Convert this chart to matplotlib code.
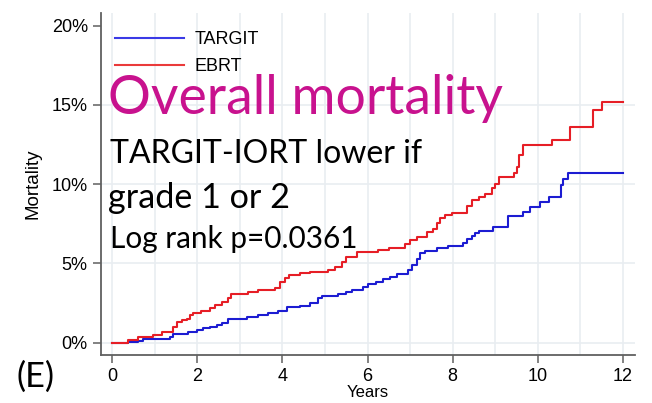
import matplotlib
matplotlib.use("Agg")
import matplotlib.pyplot as plt
from matplotlib.ticker import FixedLocator

# ---------------- data (percent mortality, step changes) ----------------
ebrt_t = [0, 0.38, 0.61, 0.96, 1.17, 1.43, 1.53, 1.65, 1.76, 1.83, 1.9, 2.1, 2.3, 2.42,
          2.58, 2.72, 2.8, 3.2, 3.43, 3.83, 3.94, 4.05, 4.15, 4.41, 4.65, 5.07, 5.23,
          5.4, 5.5, 5.75, 6.24, 6.5, 6.88, 7.0, 7.16, 7.4, 7.54, 7.62, 7.7, 7.82, 7.98,
          8.33, 8.45, 8.62, 8.75, 8.92, 9.0, 9.09, 9.44, 9.5, 9.56, 9.65, 10.33, 10.75,
          11.3, 11.5, 12.0]
ebrt_y = [0, 0.17, 0.38, 0.5, 0.67, 1.0, 1.3, 1.4, 1.5, 1.75, 1.87, 2.0, 2.2, 2.4,
          2.57, 2.8, 3.07, 3.2, 3.3, 3.47, 3.85, 4.1, 4.27, 4.37, 4.48, 4.6, 4.79,
          5.1, 5.4, 5.72, 5.82, 5.95, 6.2, 6.48, 6.69, 6.95, 7.2, 7.53, 7.84, 8.05, 8.16,
          8.6, 9.0, 9.17, 9.38, 9.74, 9.99, 10.43, 10.7, 11.1, 11.83, 12.45, 12.78, 13.62,
          14.65, 15.2, 15.2]

targit_t = [0, 0.38, 0.61, 0.73, 1.36, 1.43, 1.78, 2.0, 2.14, 2.3, 2.46, 2.58, 2.72,
            3.17, 3.43, 3.66, 3.9, 4.1, 4.41, 4.65, 4.84, 4.93, 5.3, 5.5, 5.63, 5.9,
            6.0, 6.2, 6.37, 6.53, 6.68, 6.95, 7.04, 7.16, 7.23, 7.35, 7.63, 7.9, 8.24,
            8.33, 8.45, 8.52, 8.62, 8.94, 9.3, 9.65, 9.81, 10.05, 10.26, 10.54, 10.6,
            10.7, 12.0]
targit_y = [0, 0.07, 0.13, 0.2, 0.38, 0.55, 0.69, 0.8, 0.9, 1.0, 1.11, 1.26, 1.49,
            1.6, 1.73, 1.85, 2.02, 2.23, 2.31, 2.48, 2.8, 2.94, 3.07, 3.22, 3.3, 3.53,
            3.7, 3.85, 4.0, 4.16, 4.31, 4.58, 4.9, 5.26, 5.64, 5.8, 5.95, 6.1, 6.3,
            6.52, 6.73, 6.9, 7.06, 7.28, 7.99, 8.26, 8.54, 8.85, 9.2, 9.94, 10.3,
            10.72, 10.72]

x_ticks = [0, 2, 4, 6, 8, 10, 12]
y_ticks = [0, 5, 10, 15, 20]
y_ticklabels = ["0%", "5%", "10%", "15%", "20%"]
series_labels = ["TARGIT", "EBRT"]

# ---------------- figure ----------------
W, H = 652, 403
fig = plt.figure(figsize=(W / 100, H / 100), dpi=100)
fig.patch.set_facecolor("white")
ax = fig.add_axes([101 / W, 1 - 355 / H, (635 - 101) / W, (355 - 13) / H])

base_font = "Liberation Sans"
grid_col = "#e9edf1"

ax.set_xlim(-0.26, 12.28)
ax.set_ylim(-0.78, 20.8)

ax.xaxis.set_major_locator(FixedLocator(x_ticks))
ax.xaxis.set_minor_locator(FixedLocator(list(range(0, 13))))
ax.yaxis.set_major_locator(FixedLocator(y_ticks))
ax.set_yticklabels(y_ticklabels)
ax.grid(True, which="both", axis="x", color=grid_col, lw=1.2)
ax.grid(True, which="major", axis="y", color=grid_col, lw=1.2)
ax.yaxis.get_gridlines()[-1].set_visible(False)
ax.set_axisbelow(True)

for s in ["top", "right"]:
    ax.spines[s].set_visible(False)
for s in ["left", "bottom"]:
    ax.spines[s].set_color("#606060")
    ax.spines[s].set_linewidth(1.3)

ax.tick_params(axis="both", which="major", length=5.5, width=1.1, color="#606060",
               labelsize=13, pad=4)
ax.tick_params(axis="x", which="minor", length=0)
for lab in ax.get_xticklabels() + ax.get_yticklabels():
    lab.set_fontfamily(base_font)

ax.step(targit_t, targit_y, where="post", color="#1c1cd2", lw=1.5, label=series_labels[0])
ax.step(ebrt_t, ebrt_y, where="post", color="#e61e26", lw=1.5, label=series_labels[1])

ax.set_ylabel("Mortality", fontsize=13.5, fontfamily=base_font, labelpad=7)
ax.set_xlabel("Years", fontsize=12, fontfamily=base_font, labelpad=0)

leg = ax.legend(loc="upper left", bbox_to_anchor=(14 / 534, 1 - 18 / 342), frameon=False,
                prop={"family": base_font, "size": 13}, handlelength=3.8,
                handletextpad=0.6, labelspacing=0.55, borderpad=0, borderaxespad=0)
leg.get_lines()[0].set_color("#3a3ae6")
leg.get_lines()[1].set_color("#ea3a3a")

# ---------------- overlay texts ----------------
renderer = fig.canvas.get_renderer()


def place(txt, left, baseline, width, color, family="Lato", size=30):
    t = fig.text(left / W, 1 - baseline / H, txt, color=color, fontsize=size,
                 fontfamily=family, ha="left", va="baseline")
    w = t.get_window_extent(renderer).width
    t.set_fontsize(size * width / w)
    return t


place("Overall mortality", 108, 114, 395, "#c8128e")
place("TARGIT-IORT lower if", 110, 163, 312, "black")
place("grade 1 or 2", 108, 208, 182, "black")
place("Log rank p=0.0361", 110, 248, 247, "black")
place("(E)", 17, 387, 38, "black")

fig.savefig("out.png", dpi=100)
